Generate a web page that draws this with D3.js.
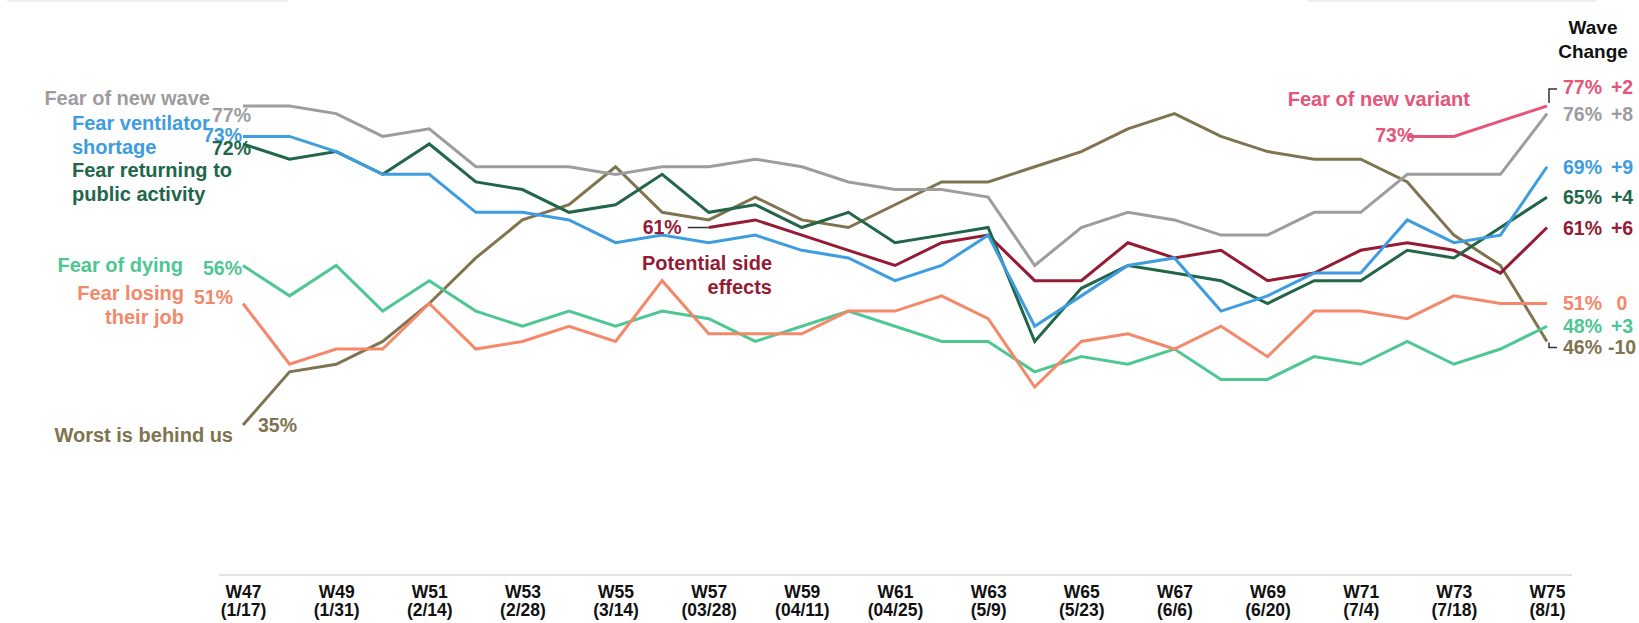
<!DOCTYPE html>
<html>
<head>
<meta charset="utf-8">
<script src="https://cdn.jsdelivr.net/npm/d3@7"></script>
<style>
  body { margin: 0; background: #fff; }
  svg text { font-family: "Liberation Sans", Arial, Helvetica, sans-serif; font-weight: bold; }
</style>
</head>
<body>
<div id="chart"></div>
<script>
// waves W47..W75
const waves = d3.range(47, 76).map(d => "W" + d);
const tickWaves = ["W47","W49","W51","W53","W55","W57","W59","W61","W63","W65","W67","W69","W71","W73","W75"];
const tickDates = ["(1/17)","(1/31)","(2/14)","(2/28)","(3/14)","(03/28)","(04/11)","(04/25)","(5/9)","(5/23)","(6/6)","(6/20)","(7/4)","(7/18)","(8/1)"];

// values (% of respondents), null = not asked
const fearNewWave    = [77,77,76,73,74,69,69,69,68,69,69,70,69,67,66,66,65,56,61,63,62,60,60,63,63,68,68,68,76];
const fearVentilator = [73,73,71,68,68,63,63,62,59,60,59,60,58,57,54,56,60,48,52,56,57,50,52,55,55,62,59,60,69];
const fearReturning  = [72,70,71,68,72,67,66,63,64,68,63,64,61,63,59,60,61,46,53,56,55,54,51,54,54,58,57,61,65];
const fearDying      = [56,52,56,50,54,50,48,50,48,50,49,46,48,50,48,46,46,42,44,43,45,41,41,44,43,46,43,45,48];
const fearJob        = [51,43,45,45,51,45,46,48,46,54,47,47,47,50,50,52,49,40,46,47,45,48,44,50,50,49,52,51,51];
const worstBehind    = [35,42,43,46,51,57,62,64,69,63,62,65,62,61,64,67,67,69,71,74,76,73,71,70,70,67,60,56,46];
const sideEffects    = [null,null,null,null,null,null,null,null,null,null,61,62,60,58,56,59,60,54,54,59,57,58,54,55,58,59,58,55,61];
const fearVariant    = [null,null,null,null,null,null,null,null,null,null,null,null,null,null,null,null,null,null,null,null,null,null,null,null,null,73,73,75,77];
const waveChange     = ["+2","+8","+9","+4","+6","0","+3","-10"];

const width = 1639, height = 623;

const series = [
  {key: "variant",  values: fearVariant,    color: "#e5557a", endDy: -19, change: waveChange[0]},
  {key: "newwave",  values: fearNewWave,    color: "#9d9d9f", endDy: 0,   change: waveChange[1]},
  {key: "vent",     values: fearVentilator, color: "#3e9de0", endDy: 0,   change: waveChange[2]},
  {key: "return",   values: fearReturning,  color: "#22664a", endDy: 0,   change: waveChange[3]},
  {key: "side",     values: sideEffects,    color: "#951b34", endDy: 0,   change: waveChange[4]},
  {key: "job",      values: fearJob,        color: "#f3886a", endDy: 0,   change: waveChange[5]},
  {key: "dying",    values: fearDying,      color: "#4ec793", endDy: 0,   change: waveChange[6]},
  {key: "worst",    values: worstBehind,    color: "#80744f", endDy: 6,   change: waveChange[7]}
];

const svg = d3.select("#chart").append("svg")
  .attr("width", width).attr("height", height)
  .attr("viewBox", [0, 0, width, height]);

const x = d3.scalePoint().domain(waves).range([243, 1547]);
const y = d3.scaleLinear().domain([35, 77]).range([425, 106]);

// faint rules at the very top
svg.append("rect").attr("x", 7).attr("y", 0).attr("width", 281).attr("height", 2).attr("fill", "#eeeeee");
svg.append("rect").attr("x", 1307).attr("y", 0).attr("width", 290).attr("height", 2).attr("fill", "#eeeeee");

// x axis
const axisY = 575;
svg.append("line")
  .attr("x1", x.range()[0] - 24).attr("x2", x.range()[1] + 25)
  .attr("y1", axisY).attr("y2", axisY)
  .attr("stroke", "#e3e3e3").attr("stroke-width", 2);

const xAxis = svg.append("g")
  .attr("transform", `translate(0,${axisY})`)
  .call(d3.axisBottom(x).tickValues(tickWaves).tickSize(0).tickPadding(11));
xAxis.select(".domain").remove();
xAxis.selectAll("text")
  .attr("fill", "#111").style("font-size", "17.5px").style("font-family", "'Liberation Sans', Arial, sans-serif")
  .style("font-weight", "bold")
  .each(function(d, i) {
    const t = d3.select(this);
    t.text(null);
    t.append("tspan").attr("x", 0).attr("dy", "0.71em").text(d);
    t.append("tspan").attr("x", 0).attr("dy", "18px").text(tickDates[i]);
  });

// lines
const line = d3.line()
  .defined(d => d.v != null)
  .x(d => x(d.w))
  .y(d => y(d.v));

series.forEach(s => {
  s.points = s.values.map((v, i) => ({w: waves[i], v: v}));
  s.first = s.points.find(p => p.v != null);
  s.last = s.points[s.points.length - 1];
});

svg.append("g").selectAll("path")
  .data(series.slice().reverse())
  .join("path")
  .attr("d", s => line(s.points))
  .attr("fill", "none")
  .attr("stroke", s => s.color)
  .attr("stroke-width", 3)
  .attr("stroke-linejoin", "miter");

// right end labels
const fs = 20, nfs = 19.5;
const endG = svg.append("g");
series.forEach(s => {
  const ly = y(s.last.v) + s.endDy;
  endG.append("text")
    .attr("x", 1563).attr("y", ly + 7)
    .attr("fill", s.color).style("font-size", nfs + "px")
    .text(s.last.v + "%");
  endG.append("text")
    .attr("x", 1622).attr("y", ly + 7)
    .attr("text-anchor", "middle")
    .attr("fill", s.color).style("font-size", nfs + "px")
    .text(s.change);
});

// small leaders at the end
const xe = x(waves[waves.length - 1]);
svg.append("path")
  .attr("d", `M${xe + 2},${y(fearVariant[28]) - 3} V${y(fearVariant[28]) - 17} H${xe + 10}`)
  .attr("fill", "none").attr("stroke", "#333").attr("stroke-width", 1.5);
svg.append("path")
  .attr("d", `M${xe + 2},${y(worstBehind[28]) + 1} V${y(worstBehind[28]) + 6} H${xe + 10}`)
  .attr("fill", "none").attr("stroke", "#333").attr("stroke-width", 1.5);

// wave change header
svg.append("text").attr("x", 1593).attr("y", 34).attr("text-anchor", "middle")
  .attr("fill", "#111").style("font-size", "19px").text("Wave");
svg.append("text").attr("x", 1593).attr("y", 58).attr("text-anchor", "middle")
  .attr("fill", "#111").style("font-size", "19px").text("Change");

// start value labels
const startLabels = [
  {key: "newwave", dx: 8,   dy: 16, anchor: "end"},
  {key: "vent",    dx: -1,  dy: 6,  anchor: "end"},
  {key: "return",  dx: 8,   dy: 11, anchor: "end"},
  {key: "dying",   dx: -1,  dy: 9,  anchor: "end"},
  {key: "job",     dx: -10, dy: 1,  anchor: "end"},
  {key: "worst",   dx: 15,  dy: 7,  anchor: "start"},
  {key: "side",    dx: -27, dy: 6,  anchor: "end"},
  {key: "variant", dx: 7,   dy: 6,  anchor: "end"}
];
startLabels.forEach(l => {
  const s = series.find(d => d.key === l.key);
  svg.append("text")
    .attr("x", x(s.first.w) + l.dx).attr("y", y(s.first.v) + l.dy)
    .attr("text-anchor", l.anchor)
    .attr("fill", s.color).style("font-size", nfs + "px")
    .text(s.first.v + "%");
});
// leader from 61% to side effects start
const sideStart = series.find(d => d.key === "side").first;
svg.append("line")
  .attr("x1", x(sideStart.w) - 21).attr("x2", x(sideStart.w))
  .attr("y1", y(sideStart.v)).attr("y2", y(sideStart.v))
  .attr("stroke", "#333").attr("stroke-width", 1.5);

// series names
const names = [
  {key: "newwave", lines: ["Fear of new wave"], x: 210, y: 105, anchor: "end"},
  {key: "vent",    lines: ["Fear ventilator", "shortage"], x: 72, y: 130, anchor: "start"},
  {key: "return",  lines: ["Fear returning to", "public activity"], x: 72, y: 177, anchor: "start"},
  {key: "dying",   lines: ["Fear of dying"], x: 183, y: 272, anchor: "end"},
  {key: "job",     lines: ["Fear losing", "their job"], x: 184, y: 300, anchor: "end"},
  {key: "worst",   lines: ["Worst is behind us"], x: 233, y: 442, anchor: "end"},
  {key: "side",    lines: ["Potential side", "effects"], x: 772, y: 270, anchor: "end"},
  {key: "variant", lines: ["Fear of new variant"], x: 1470, y: 106, anchor: "end"}
];
names.forEach(n => {
  const s = series.find(d => d.key === n.key);
  const t = svg.append("text")
    .attr("x", n.x).attr("y", n.y)
    .attr("text-anchor", n.anchor)
    .attr("fill", s.color).style("font-size", fs + "px");
  n.lines.forEach((ln, i) => {
    t.append("tspan").attr("x", n.x).attr("dy", i === 0 ? 0 : 24).text(ln);
  });
});
</script>
</body>
</html>
